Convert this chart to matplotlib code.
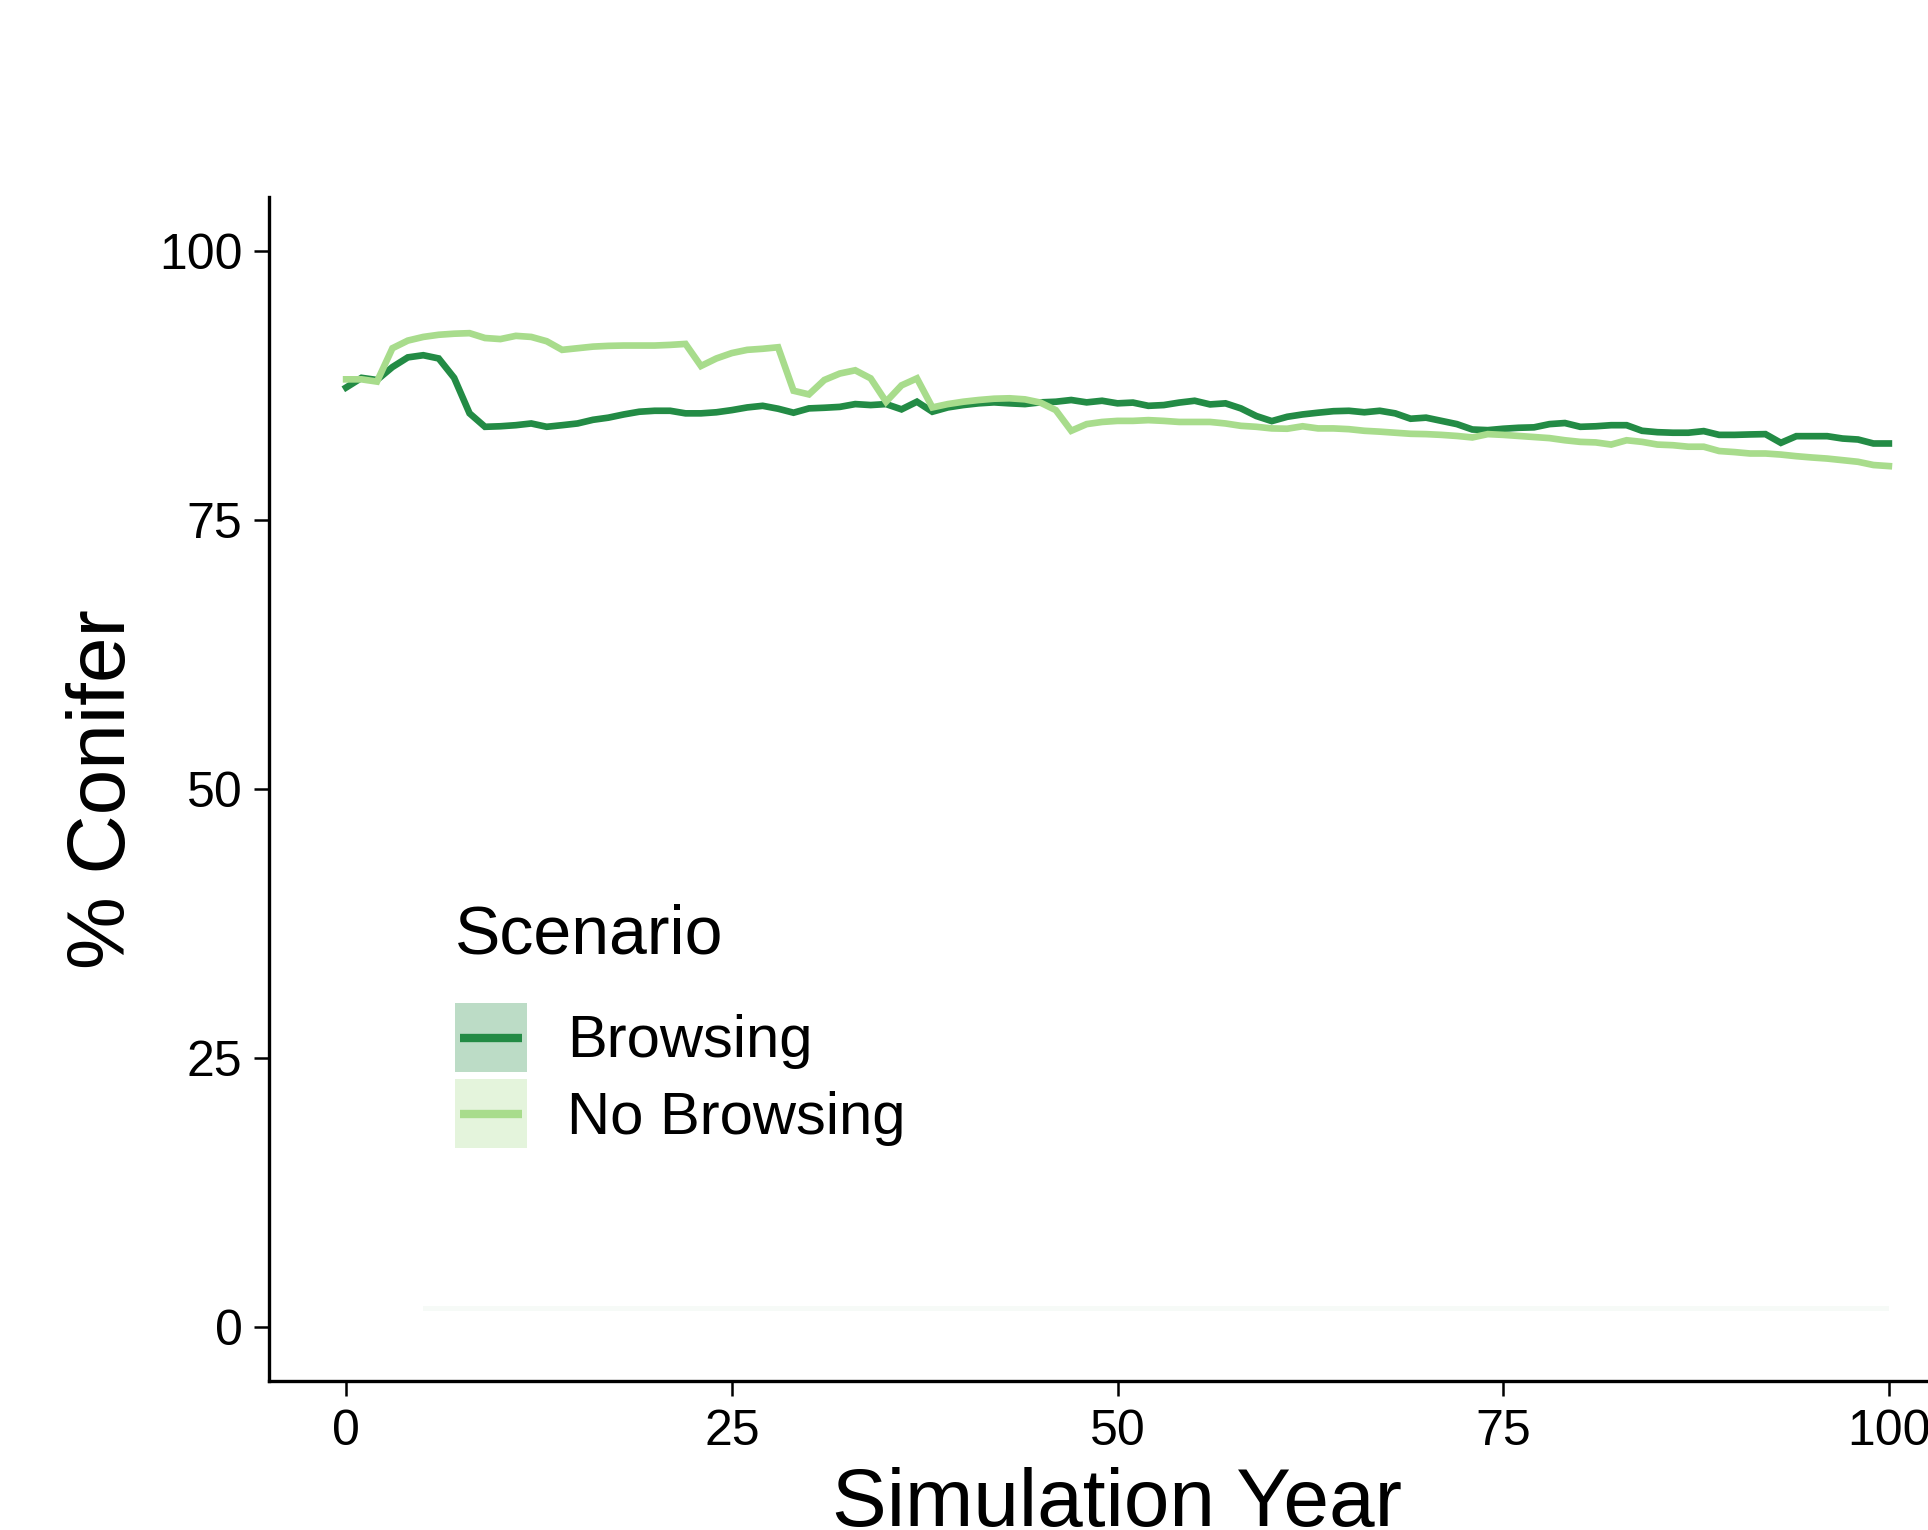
import matplotlib
matplotlib.use("Agg")
import matplotlib.pyplot as plt
from matplotlib.patches import Patch, Rectangle
from matplotlib.lines import Line2D
from matplotlib.legend_handler import HandlerBase

plt.rcParams['font.family'] = ['Liberation Sans', 'DejaVu Sans']

# simulation years 0..100
years = list(range(0, 101))

browsing = [
    87.3, 88.2, 88.0, 89.2, 90.1, 90.3, 90.0, 88.2, 84.9, 83.65,
    83.7, 83.8, 83.96, 83.65, 83.8, 83.96, 84.3, 84.5, 84.8, 85.05,
    85.14, 85.14, 84.9, 84.9, 85.0, 85.2, 85.45, 85.6, 85.33, 84.96,
    85.36, 85.42, 85.5, 85.76, 85.67, 85.76, 85.27, 85.98, 85.05, 85.45,
    85.67, 85.83, 85.92, 85.83, 85.76, 85.92, 85.98, 86.14, 85.92, 86.07,
    85.83, 85.9, 85.6, 85.67, 85.9, 86.07, 85.73, 85.83, 85.36, 84.65,
    84.18, 84.58, 84.8, 84.96, 85.1, 85.14, 85.0, 85.14, 84.9, 84.4,
    84.5, 84.2, 83.9, 83.4, 83.34, 83.47, 83.56, 83.6, 83.9, 84.0,
    83.65, 83.7, 83.8, 83.8, 83.28, 83.15, 83.1, 83.1, 83.25, 82.9,
    82.9, 82.94, 82.97, 82.16, 82.78, 82.78, 82.78, 82.56, 82.47, 82.1,
    82.1,
]

no_browsing = [
    88.06, 88.06, 87.85, 90.95, 91.66, 92.0, 92.2, 92.3, 92.35, 91.9,
    91.8, 92.1, 92.0, 91.6, 90.8, 90.95, 91.1, 91.17, 91.2, 91.2,
    91.2, 91.26, 91.35, 89.3, 90.0, 90.5, 90.8, 90.9, 91.04, 87.0,
    86.66, 88.0, 88.6, 88.9, 88.15, 85.98, 87.5, 88.15, 85.45, 85.76,
    85.98, 86.14, 86.26, 86.3, 86.2, 85.9, 85.2, 83.28, 83.9, 84.1,
    84.2, 84.2, 84.27, 84.2, 84.1, 84.1, 84.1, 83.96, 83.74, 83.65,
    83.5, 83.47, 83.7, 83.5, 83.5, 83.43, 83.28, 83.2, 83.1, 83.0,
    82.97, 82.9, 82.8, 82.66, 82.97, 82.9, 82.8, 82.7, 82.6, 82.4,
    82.25, 82.2, 82.0, 82.4, 82.25, 82.0, 81.94, 81.8, 81.8, 81.4,
    81.3, 81.17, 81.17, 81.07, 80.92, 80.8, 80.7, 80.55, 80.4, 80.1,
    80.0,
]

# barely visible ribbon near the bottom
faint_years = [5, 100]
faint_low = [1.5, 1.5]
faint_high = [2.0, 2.0]

scenarios = ["Browsing", "No Browsing"]
line_colors = ["#238b45", "#a8dc8c"]
fill_colors = ["#238b45", "#a8dc8c"]


class KeyHandler(HandlerBase):
    # filled square with the line centred across it, like a ggplot key
    def create_artists(self, legend, orig_handle, xdescent, ydescent,
                       width, height, fontsize, trans):
        patch, line = orig_handle
        box = Rectangle((-xdescent, -ydescent), width, height,
                        facecolor=patch.get_facecolor(), edgecolor="none",
                        transform=trans)
        y = -ydescent + height / 2
        inset = 0.07 * width
        ln = Line2D([-xdescent + inset, -xdescent + width - inset], [y, y],
                    color=line.get_color(), lw=line.get_linewidth(),
                    solid_capstyle="butt", transform=trans)
        return [box, ln]


fig = plt.figure(figsize=(19.28, 15.3), dpi=100)
ax = fig.add_axes([269 / 1928, 1 - 1381 / 1530, 1697 / 1928, 1184 / 1530])

ax.fill_between(faint_years, faint_low, faint_high, color="#f6faf7", lw=0)
ax.plot(years, browsing, color=line_colors[0], lw=4.8, solid_joinstyle="miter")
ax.plot(years, no_browsing, color=line_colors[1], lw=4.8, solid_joinstyle="miter")

ax.set_xlim(-5, 105)
ax.set_ylim(-5, 105)
ax.set_xticks([0, 25, 50, 75, 100])
ax.set_yticks([0, 25, 50, 75, 100])
ax.spines["top"].set_visible(False)
ax.spines["right"].set_visible(False)
for s in ["left", "bottom"]:
    ax.spines[s].set_linewidth(2.4)
ax.tick_params(axis="both", length=11, width=1.8, labelsize=36, colors="black")
ax.tick_params(axis="x", pad=9)
ax.tick_params(axis="y", pad=8)

ax.set_xlabel("Simulation Year", fontsize=59)
ax.xaxis.set_label_coords(0.5, -0.073)
ax.set_ylabel("% Conifer", fontsize=59)
ax.yaxis.set_label_coords(-0.075, 0.5)

handles = []
for c_line, c_fill in zip(line_colors, fill_colors):
    handles.append((Patch(facecolor=c_fill, alpha=0.3, edgecolor="none"),
                    Line2D([], [], color=c_line, lw=6)))

leg = ax.legend(handles, scenarios, title="Scenario", loc="upper left",
                bbox_to_anchor=(455 / 1928, 1 - 903 / 1530), bbox_transform=fig.transFigure,
                frameon=False, fontsize=43, title_fontsize=49, alignment="left",
                handlelength=1.2, handleheight=1.4, handletextpad=0.68,
                labelspacing=0.12, borderpad=0, borderaxespad=0,
                handler_map={tuple: KeyHandler()})
# more room between the legend title and the keys
leg._legend_box.sep = 26

fig.savefig("out.png", dpi=100)
